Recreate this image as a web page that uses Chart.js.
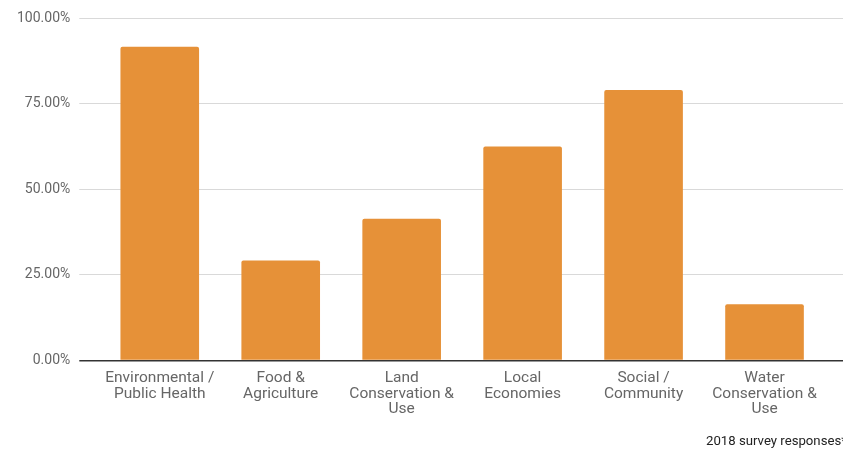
<!DOCTYPE html>
<html>
<head>
<meta charset="utf-8">
<script src="https://cdn.jsdelivr.net/npm/chart.js@4/dist/chart.umd.min.js"></script>
<style>
  html, body { margin: 0; padding: 0; background: #fff; overflow: hidden; }
  #wrap { position: relative; width: 843px; height: 451px; overflow: hidden; }
  #note {
    position: absolute; left: 706px; top: 433px;
    font: 13.2px Roboto, sans-serif; color: #222; white-space: nowrap;
  }
</style>
</head>
<body>
<div id="wrap">
  <canvas id="chart" width="843" height="451"></canvas>
  <div id="note">2018 survey responses*</div>
</div>
<script>
// Categories (multi-line tick labels) and survey share per category, in %
const categories = [
    ['Environmental /', 'Public Health'],
    ['Food &', 'Agriculture'],
    ['Land', 'Conservation &', 'Use'],
    ['Local', 'Economies'],
    ['Social /', 'Community'],
    ['Water', 'Conservation &', 'Use']
];
const shares = [91.6, 29.2, 41.4, 62.5, 79.0, 16.4];
const yTicks = [0, 25, 50, 75, 100];

const fontFamily = 'Roboto, "Liberation Sans", sans-serif';
const gridColor = ctx => ctx.tick && ctx.tick.value === 0 ? '#333' : '#d9d9d9';
const gridWidth = ctx => ctx.tick && ctx.tick.value === 0 ? 1.5 : 1;

const ctx = document.getElementById('chart').getContext('2d');
new Chart(ctx, {
    type: 'bar',
    data: {
        labels: categories,
        datasets: [{
            data: shares,
            backgroundColor: '#e69138',
            borderRadius: 2,
            borderSkipped: 'bottom',
            categoryPercentage: 1,
            barPercentage: 0.65
        }]
    },
    options: {
        responsive: false,
        animation: false,
        layout: { padding: { left: 8, top: 18, right: 0, bottom: 32 } },
        plugins: {
            legend: { display: false },
            tooltip: { enabled: false }
        },
        scales: {
            x: {
                grid: { display: false },
                border: { display: false },
                ticks: {
                    color: '#666',
                    padding: 2,
                    maxRotation: 0,
                    autoSkip: false,
                    font: { family: fontFamily, size: 15.5, lineHeight: 1.0 }
                }
            },
            y: {
                min: 0,
                max: 100,
                afterBuildTicks: axis => { axis.ticks = yTicks.map(v => ({ value: v })); },
                border: { display: false },
                grid: {
                    color: gridColor,
                    tickColor: gridColor,
                    lineWidth: gridWidth,
                    tickLength: 20
                },
                ticks: {
                    color: '#666',
                    padding: 9,
                    font: { family: fontFamily, size: 14 },
                    callback: v => v.toFixed(2) + '%'
                }
            },
            y2: {
                position: 'right',
                min: 0,
                max: 100,
                afterBuildTicks: axis => { axis.ticks = yTicks.map(v => ({ value: v })); },
                border: { display: false },
                grid: {
                    drawOnChartArea: false,
                    color: gridColor,
                    tickColor: gridColor,
                    lineWidth: gridWidth,
                    tickLength: 18
                },
                ticks: { display: false }
            }
        }
    }
});
</script>
</body>
</html>
